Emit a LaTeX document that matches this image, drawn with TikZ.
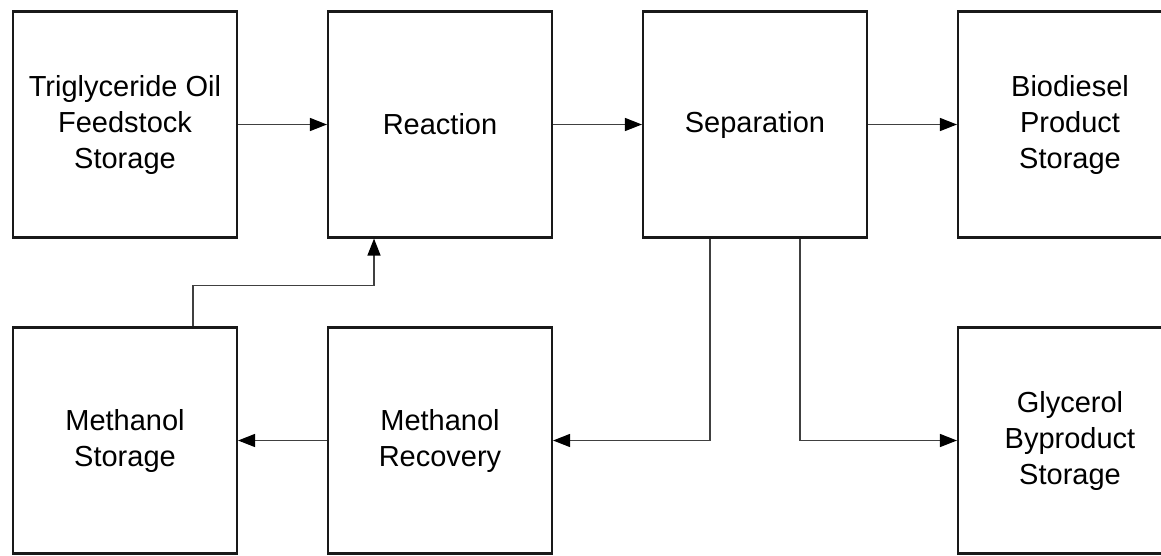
\documentclass[tikz,border=0pt]{standalone}
\usepackage{fontspec}
\setmainfont{Liberation Sans}
\usetikzlibrary{arrows.meta}
\begin{document}
\begin{tikzpicture}[x=1pt,y=-1pt,
  blockbox/.style={draw=black!90, line width=2.1pt, minimum width=224pt, minimum height=226pt,
    inner sep=0pt, align=center, font=\fontsize{29}{36}\selectfont},
  conn/.style={draw=black!75, line width=1.3pt, -{Triangle[length=17pt,width=13pt,color=black]}}]
\useasboundingbox (0,0) rectangle (1161,555);
\fill[white] (0,0) rectangle (1161,555);
\clip (0,0) rectangle (1161,555);
\node[blockbox] (trig)  at (125,124.5)  {Triglyceride Oil\\Feedstock\\Storage};
\node[blockbox] (react) at (440,124.5)  {Reaction};
\node[blockbox] (sep)   at (755,124.5)  {Separation};
\node[blockbox] (bio)   at (1070,124.5) {Biodiesel\\Product\\Storage};
\node[blockbox] (ms)    at (125,440.5)  {Methanol\\Storage};
\node[blockbox] (mr)    at (440,440.5)  {Methanol\\Recovery};
\node[blockbox] (gly)   at (1070,440.5) {Glycerol\\Byproduct\\Storage};
\draw[conn] (trig.east) -- (react.west);
\draw[conn] (react.east) -- (sep.west);
\draw[conn] (sep.east) -- (bio.west);
\draw[conn] (mr.west) -- (ms.east);
\draw[conn] ([xshift=68pt]ms.north) -- ++(0,-41) -| ([xshift=-66pt]react.south);
\draw[conn] ([xshift=-45pt]sep.south) |- (mr.east);
\draw[conn] ([xshift=45pt]sep.south) |- (gly.west);
\end{tikzpicture}
\end{document}
